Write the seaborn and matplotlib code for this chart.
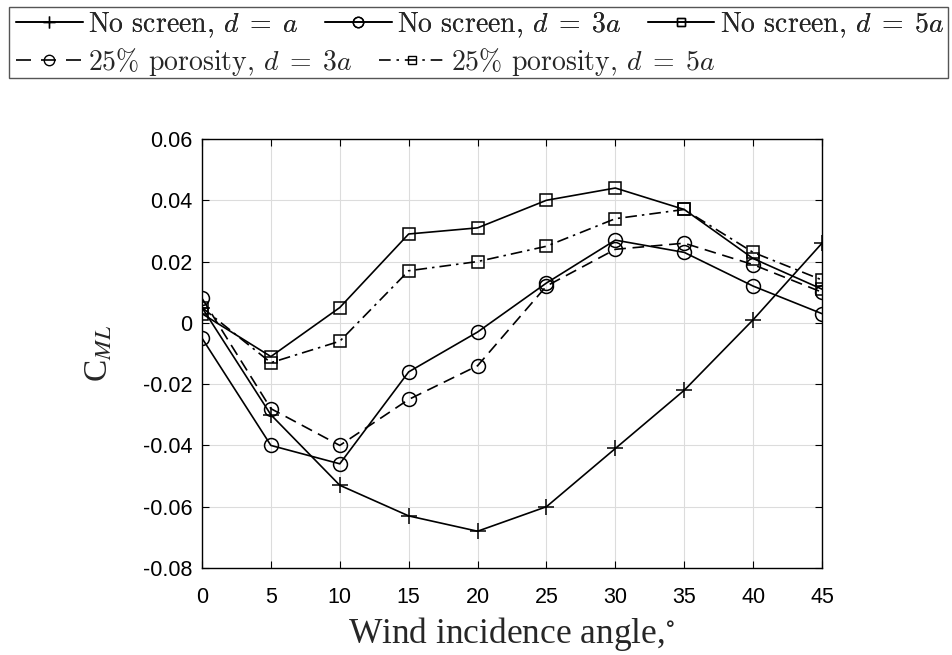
import matplotlib
matplotlib.use("Agg")
import matplotlib.pyplot as plt
import seaborn as sns
import pandas as pd
from matplotlib.patches import Rectangle
from matplotlib.lines import Line2D

angles = [0, 5, 10, 15, 20, 25, 30, 35, 40, 45]
ns_d1 = [0.005, -0.030, -0.053, -0.063, -0.068, -0.060, -0.041, -0.022, 0.001, 0.026]
ns_d3 = [-0.005, -0.040, -0.046, -0.016, -0.003, 0.013, 0.027, 0.023, 0.012, 0.003]
ns_d5 = [0.003, -0.011, 0.005, 0.029, 0.031, 0.040, 0.044, 0.037, 0.021, 0.011]
p25_d3 = [0.008, -0.028, -0.040, -0.025, -0.014, 0.012, 0.024, 0.026, 0.019, 0.010]
p25_d5 = [0.005, -0.013, -0.006, 0.017, 0.020, 0.025, 0.034, 0.037, 0.023, 0.014]

labels = [r"No screen, $d\;=\;a$", r"No screen, $d\;=\;3a$", r"No screen, $d\;=\;5a$",
          r"25% porosity, $d\;=\;3a$", r"25% porosity, $d\;=\;5a$"]
series = [ns_d1, ns_d3, ns_d5, p25_d3, p25_d5]
markers = ["+", "o", "s", "o", "s"]
msizes = [11, 10, 8, 10, 8]
lstyles = ["-", "-", "-", (0, (7, 4)), (0, (7, 3, 1.5, 3))]
leg_lstyles = ["-", "-", "-", (0, (9, 6)), (0, (7, 3.5, 1.5, 3.5))]

yticks = [0.06, 0.04, 0.02, 0, -0.02, -0.04, -0.06, -0.08]
ytick_labels = ["0.06", "0.04", "0.02", "0", "-0.02", "-0.04", "-0.06", "-0.08"]
xticks = angles

sns.set_style("ticks")
plt.rcParams["mathtext.fontset"] = "cm"
plt.rcParams["font.family"] = ["cmr10", "DejaVu Serif"]
plt.rcParams["axes.unicode_minus"] = False
plt.rcParams["axes.formatter.use_mathtext"] = True

fig = plt.figure(figsize=(9.52, 6.55), dpi=100)
ax = fig.add_axes([202 / 952, 1 - 568 / 655, (822 - 202) / 952, (568 - 139) / 655])

rows = []
for lab, vals in zip(labels, series):
    for a, v in zip(angles, vals):
        rows.append({"angle": a, "cml": v, "series": lab})
df = pd.DataFrame(rows)

handles = []
for lab, m, ms, ls, lls in zip(labels, markers, msizes, lstyles, leg_lstyles):
    sub = df[df["series"] == lab]
    sns.lineplot(data=sub, x="angle", y="cml", ax=ax, color="black", linewidth=1.2,
                 linestyle=ls, marker=m, markersize=ms, markerfacecolor="none",
                 markeredgecolor="black", markeredgewidth=1.1, legend=False)
    handles.append(Line2D([0], [0], color="black", linewidth=1.2, linestyle=lls, marker=m,
                          markersize=ms * 0.75, markerfacecolor="none", markeredgecolor="black"))

ax.set_xlim(0, 45)
ax.set_ylim(-0.08, 0.06)
ax.set_xticks(xticks)
ax.set_xticklabels([str(x) for x in xticks], fontfamily="Liberation Sans", fontsize=15.5,
                   color="#262626")
ax.set_yticks(yticks)
ax.set_yticklabels(ytick_labels, fontfamily="Liberation Sans", fontsize=15.5, color="#262626")
ax.grid(True, color="#dcdcdc", linewidth=0.8)
ax.set_axisbelow(True)
ax.tick_params(direction="in", top=True, right=True, length=5, width=0.8, colors="black")
ax.tick_params(axis="x", pad=13.5)
ax.tick_params(axis="y", pad=7)
for sp in ax.spines.values():
    sp.set_visible(True)
    sp.set_color("black")
    sp.set_linewidth(1.0)

ax.set_xlabel(r"Wind incidence angle,$^{\circ}$", fontsize=25.5, labelpad=5,
              fontfamily="Liberation Serif", math_fontfamily="stix", color="#262626")
ax.set_ylabel(r"C$_{ML}$", fontsize=24, labelpad=20,
              fontfamily="Liberation Serif", math_fontfamily="stix", color="#262626")

leg_kw = dict(frameon=False, fontsize=20, handlelength=2.4, handletextpad=0.2,
              columnspacing=0.95, borderaxespad=0, borderpad=0, loc="center left")
leg1 = fig.legend(handles[:3], labels[:3], bbox_to_anchor=(16 / 952, 1 - 25 / 655),
                  ncol=3, **leg_kw)
leg2 = fig.legend(handles[3:], labels[3:], bbox_to_anchor=(16 / 952, 1 - 62 / 655),
                  ncol=2, **leg_kw)
fig.add_artist(leg1)
fig.patches.append(Rectangle((9 / 952, 1 - 78 / 655), (948 - 9) / 952, (78 - 7) / 655,
                             transform=fig.transFigure, fill=False, edgecolor="#555555",
                             linewidth=1.0))

fig.savefig("out.png", dpi=100)
